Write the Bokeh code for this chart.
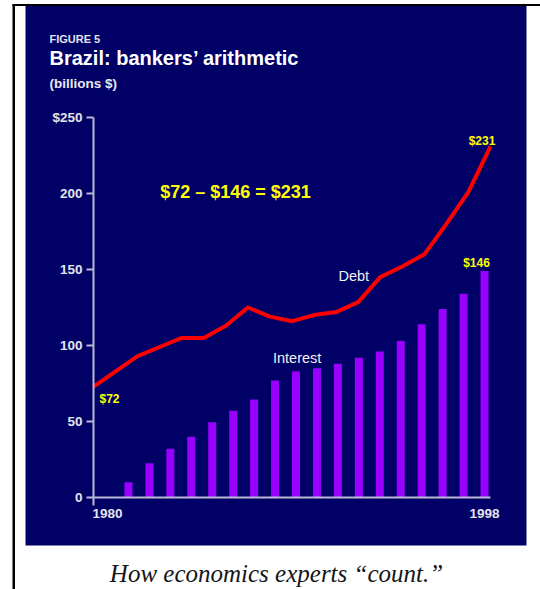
from bokeh.plotting import figure
from bokeh.models import Range1d, LinearAxis, FixedTicker, BoxAnnotation
from bokeh.core.properties import value
from bokeh.embed import file_html
from bokeh.resources import INLINE

# ---- data (billions $) ----
debt_years = [1980, 1981, 1982, 1983, 1984, 1985, 1986, 1987, 1988, 1989,
              1990, 1991, 1992, 1993, 1994, 1995, 1996, 1997, 1998]
debt = [73, 83, 93, 99, 105, 105, 113, 125, 119, 116,
        120, 122, 128.5, 145, 152, 160, 180, 201, 231]
interest_years = [1981, 1982, 1983, 1984, 1985, 1986, 1987, 1988, 1989,
                  1990, 1991, 1992, 1993, 1994, 1995, 1996, 1997, 1998]
interest = [10, 22.5, 32, 40, 49.5, 57, 64.5, 77, 83,
            85, 88, 92, 96, 103, 114, 124, 134, 149]
y_ticks = [0, 50, 100, 150, 200, 250]
y_tick_overrides = {250: "$250"}
x_ticks = [1980, 1998]
formula_text = "$72 \u2013 $146 = $231"
debt_start_label = "$72"
debt_end_label = "$231"
interest_end_label = "$146"

# ---- layout (picture pixels -> data units) ----
W, H = 540, 589
M = 0


def lin(p0, p1, v0, v1):
    return lambda pg: v0 + (pg - p0) * (v1 - v0) / (p1 - p0)


px = lin(93, 490, 1980, 1998)     # debt line / default x scale
pb = lin(107, 484, 1980, 1998)    # bar scale
py = lin(497, 117, 0, 250)        # y scale

NAVY = "#000066"
AXIS = "#b9b9d6"
TICKLBL = "#e4e4ee"
YELLOW = "#ffff00"
SANS_NAME = "Liberation Sans"
SANS = value(SANS_NAME)

p = figure(width=W, height=H, output_backend="svg", toolbar_location=None,
           x_range=Range1d(px(M), px(M + W)),
           y_range=Range1d(py(M + H), py(M)),
           x_axis_location=None, y_axis_location=None,
           min_border=0, background_fill_color="white",
           border_fill_color="white", outline_line_color=None)
p.extra_x_ranges = {"bars": Range1d(pb(M), pb(M + W))}
p.grid.visible = False

# panel background and page rules
p.add_layout(BoxAnnotation(left=px(25), right=px(526), top=py(5.5), bottom=py(545),
                           fill_color=NAVY, fill_alpha=1, line_color=None, level="underlay"))
p.add_layout(BoxAnnotation(left=px(12), right=px(14.5), top=py(3.5), bottom=py(589),
                           fill_color="black", fill_alpha=1, line_color=None, level="underlay"))
p.add_layout(BoxAnnotation(left=px(12), right=px(540), top=py(3.5), bottom=py(5.5),
                           fill_color="black", fill_alpha=1, line_color=None, level="underlay"))

# axes
yaxis = LinearAxis(fixed_location=1980, ticker=FixedTicker(ticks=y_ticks),
                   bounds=(py(505), 250), major_label_overrides=y_tick_overrides,
                   axis_line_color=AXIS, axis_line_width=2,
                   major_tick_line_color=AXIS, major_tick_line_width=2,
                   major_tick_out=7, major_tick_in=0, minor_tick_line_color=None,
                   major_label_standoff=4, major_label_text_color=TICKLBL,
                   major_label_text_font=SANS_NAME, major_label_text_font_style="bold",
                   major_label_text_font_size="13.5px")
p.add_layout(yaxis, "left")

xaxis = LinearAxis(fixed_location=0, x_range_name="bars", ticker=FixedTicker(ticks=x_ticks),
                   bounds=(pb(93), pb(490)),
                   axis_line_color=AXIS, axis_line_width=2,
                   major_tick_line_color=None, major_tick_out=0, major_tick_in=0,
                   minor_tick_line_color=None, major_label_standoff=11,
                   major_label_text_color=TICKLBL, major_label_text_font=SANS_NAME,
                   major_label_text_font_style="bold", major_label_text_font_size="13.5px")
p.add_layout(xaxis, "below")

# data marks
p.vbar(x=interest_years, top=interest, width=8 * 18 / 377, bottom=0,
       x_range_name="bars", fill_color="#9900ff", line_color=None)
p.line(debt_years, debt, line_color="#ff0000", line_width=4, line_join="round")

# titles
p.text(x=[px(49)], y=[py(38)], text=["FIGURE 5"], text_font=SANS, text_font_style="bold",
       text_font_size="11px", text_color="#e2e2ee", text_align="left", text_baseline="alphabetic")
p.text(x=[px(49)], y=[py(57.5)], text=["Brazil: bankers\u2019 arithmetic"], text_font=SANS,
       text_font_style="bold", text_font_size="20px", text_color="#ffffff",
       text_align="left", text_baseline="alphabetic")
p.text(x=[px(49)], y=[py(83)], text=["(billions $)"], text_font=SANS, text_font_style="bold",
       text_font_size="13.5px", text_color="#e8e8f0", text_align="left", text_baseline="alphabetic")

# annotations
p.text(x=[px(235)], y=[py(191)], text=[formula_text], text_font=SANS, text_font_style="bold",
       text_font_size="18px", text_color=YELLOW, text_align="center", text_baseline="alphabetic")
p.text(x=[debt_years[-1]], y=[debt[-1]], text=[debt_end_label], x_offset=-8.5, y_offset=-5,
       text_font=SANS, text_font_style="bold", text_font_size="12px", text_color=YELLOW,
       text_align="center", text_baseline="alphabetic")
p.text(x=[debt_years[0]], y=[debt[0]], text=[debt_start_label], x_offset=6, y_offset=12,
       text_font=SANS, text_font_style="bold", text_font_size="12px", text_color=YELLOW,
       text_align="left", text_baseline="alphabetic")
p.text(x=[interest_years[-1]], y=[interest[-1]], text=[interest_end_label], x_offset=-8,
       y_offset=-8, x_range_name="bars", text_font=SANS, text_font_style="bold",
       text_font_size="12px", text_color=YELLOW, text_align="center", text_baseline="alphabetic")
p.text(x=[px(338)], y=[py(275)], text=["Debt"], text_font=SANS, text_font_size="14.5px",
       text_color="#f2f2f2", text_align="left", text_baseline="alphabetic")
p.text(x=[px(272.5)], y=[py(357.5)], text=["Interest"], text_font=SANS, text_font_size="14.5px",
       text_color="#f2f2f2", text_align="left", text_baseline="alphabetic")

# caption
p.text(x=[px(276)], y=[py(573)], text=["How economics experts \u201ccount.\u201d"],
       text_font=value("Liberation Serif"), text_font_style="italic", text_font_size="25px",
       text_color="#151515", text_align="center", text_baseline="alphabetic")

open("out.html", "w").write(file_html(p, INLINE))
